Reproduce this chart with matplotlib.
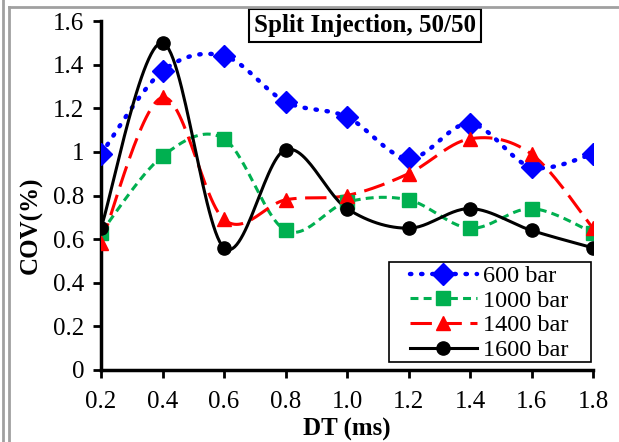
import numpy as np
import matplotlib
matplotlib.use('Agg')
from matplotlib import pyplot as plt
from matplotlib.lines import Line2D
from matplotlib.patches import Rectangle

plt.rcParams['font.family'] = ['Liberation Serif', 'DejaVu Serif']

# Данные
dt = [0.2, 0.4, 0.6, 0.8, 1.0, 1.2, 1.4, 1.6, 1.8]
cov_600 = [0.99, 1.37, 1.44, 1.23, 1.16, 0.97, 1.13, 0.93, 0.99]
cov_1000 = [0.63, 0.98, 1.06, 0.64, 0.77, 0.78, 0.65, 0.74, 0.63]
cov_1400 = [0.58, 1.25, 0.69, 0.78, 0.80, 0.90, 1.06, 0.99, 0.65]
cov_1600 = [0.65, 1.50, 0.56, 1.01, 0.74, 0.65, 0.74, 0.64, 0.56]
labels = ['600 bar', '1000 bar', '1400 bar', '1600 bar']


# Сглаживание как в Excel (кривые Безье)
def smooth(x, y, n=30):
    p = np.column_stack([x, y]).astype(float)
    out = []
    for i in range(len(p) - 1):
        p0 = p[max(i - 1, 0)]
        p1 = p[i]
        p2 = p[i + 1]
        p3 = p[min(i + 2, len(p) - 1)]
        c1 = p1 + (p2 - p0) / 6
        c2 = p2 - (p3 - p1) / 6
        t = np.linspace(0, 1, n)[:, None]
        seg = ((1 - t) ** 3) * p1 + 3 * ((1 - t) ** 2) * t * c1 + 3 * (1 - t) * t ** 2 * c2 + t ** 3 * p2
        out.append(seg if i == 0 else seg[1:])
    seg = np.vstack(out)
    return seg[:, 0], seg[:, 1]


W, H = 619, 442
fig = plt.figure(figsize=(W / 100, H / 100), dpi=100)
ax = fig.add_axes([101 / W, 1 - 370 / H, 492 / W, 349 / H])

styles = [
    dict(color='#0000ff', ls=(0, (0.3, 2.2)), lw=3.2, marker='D', ms=11, dash_capstyle='round'),
    dict(color='#00b050', ls=(0, (2.6, 1.7)), lw=2.2, marker='s', ms=10.5, dash_capstyle='butt'),
    dict(color='#ff0000', ls=(0, (7, 2.8)), lw=2.2, marker='^', ms=10.5, dash_capstyle='butt'),
    dict(color='#000000', ls='-', lw=2.2, marker='o', ms=9.5, dash_capstyle='butt'),
]
handles = []
for vals, st, lab in zip([cov_600, cov_1000, cov_1400, cov_1600], styles, labels):
    sx, sy = smooth(dt, vals)
    ax.plot(sx, sy, color=st['color'], ls=st['ls'], lw=st['lw'],
            dash_capstyle=st['dash_capstyle'], solid_capstyle='butt', zorder=2)
    ax.plot(dt, vals, ls='none', marker=st['marker'], ms=st['ms'],
            color=st['color'], mec=st['color'], zorder=3)
    handles.append(Line2D([], [], color=st['color'], ls=st['ls'], lw=st['lw'],
                          dash_capstyle=st['dash_capstyle'], marker=st['marker'],
                          ms=st['ms'], label=lab))

ax.set_xlim(0.2, 1.8)
ax.set_ylim(0, 1.6)
ax.set_xticks(dt)
ax.set_xticklabels(['%.1f' % v for v in dt])
ax.set_yticks([0, 0.2, 0.4, 0.6, 0.8, 1.0, 1.2, 1.4, 1.6])
ax.set_yticklabels(['0', '0.2', '0.4', '0.6', '0.8', '1', '1.2', '1.4', '1.6'])
for s in ['top', 'right']:
    ax.spines[s].set_visible(False)
for s in ['left', 'bottom']:
    ax.spines[s].set_linewidth(2.5)
ax.tick_params(axis='both', direction='out', length=6, width=2, labelsize=18)
ax.tick_params(axis='x', pad=9)
ax.tick_params(axis='y', pad=6)
ax.set_xlabel('DT (ms)', fontsize=18, fontweight='bold', labelpad=4)
ax.set_ylabel('COV(%)', fontsize=18, fontweight='bold')
ax.yaxis.set_label_coords(-0.118, 0.415)

# Легенда
leg = fig.legend(handles=handles, loc='upper left', bbox_to_anchor=(410 / W, 1 - 265 / H),
                 bbox_transform=fig.transFigure, fontsize=17.5, frameon=False,
                 borderpad=0, labelspacing=0.11, handlelength=2.75, handletextpad=0.25,
                 numpoints=1, borderaxespad=0)
fig.add_artist(Rectangle((389 / W, 1 - 362 / H), 202 / W, 100 / H, transform=fig.transFigure,
                         fc='white', ec='black', lw=1.2, zorder=1))
leg.set_zorder(5)

ax.text(0.5376, 0.9857, 'Split Injection, 50/50', transform=ax.transAxes, ha='center', va='center',
        fontsize=18, fontweight='bold',
        bbox=dict(boxstyle='square,pad=0.2', fc='white', ec='black', lw=1.5))

# Рамка
fig.add_artist(Line2D([2.5 / W, 2.5 / W], [0, 1], color='#a0a0a0', lw=2))
fig.add_artist(Line2D([9 / W, 9 / W], [0, 1 - 7 / H], color='#a0a0a0', lw=2))
fig.add_artist(Line2D([9 / W, 1], [1 - 7 / H, 1 - 7 / H], color='#a0a0a0', lw=2))

plt.savefig('out.png', dpi=100)
